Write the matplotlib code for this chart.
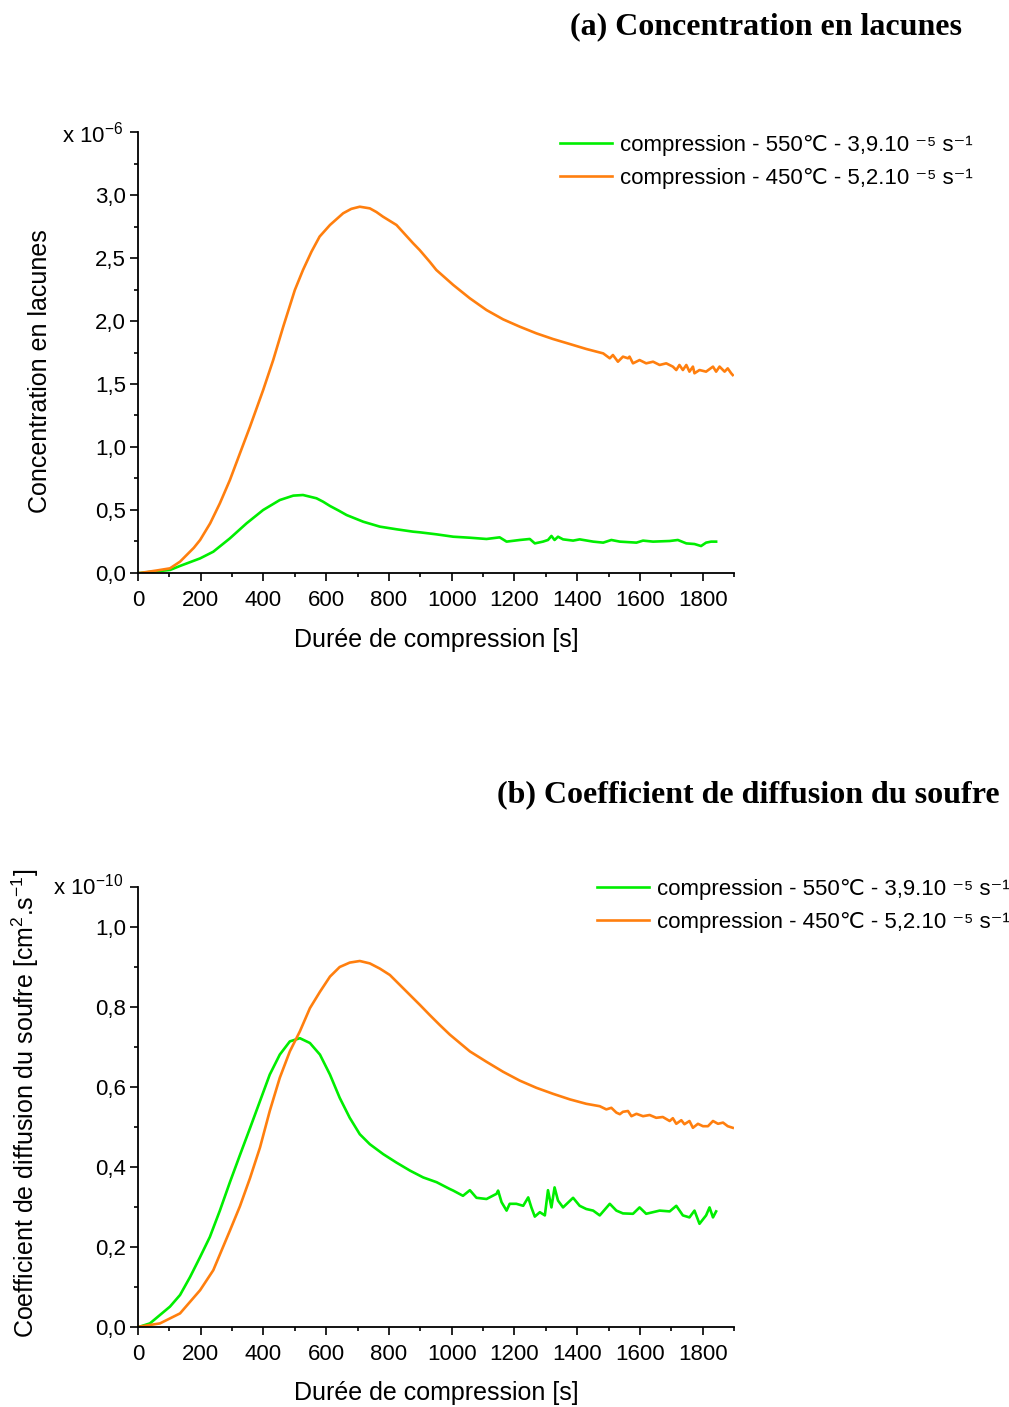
import matplotlib
matplotlib.use("Agg")
import matplotlib.pyplot as plt
from matplotlib.ticker import MultipleLocator

plt.rcParams['font.family'] = ['Liberation Sans', 'DejaVu Sans']
plt.rcParams['mathtext.fontset'] = 'custom'
plt.rcParams['mathtext.rm'] = 'Liberation Sans'
plt.rcParams['mathtext.it'] = 'Liberation Sans:italic'
plt.rcParams['mathtext.bf'] = 'Liberation Sans:bold'

# ---- data ----
# (a) vacancy concentration, units of 1e-6
t_a_550 = [0, 6, 102, 134, 198, 240, 293, 346, 399, 452, 495, 526, 569, 590, 612, 640,
           665, 718, 771, 824, 877, 898, 951, 1005, 1058, 1111, 1153, 1175, 1217, 1249,
           1265, 1291, 1307, 1318, 1328, 1339, 1355, 1387, 1408, 1451, 1483, 1509, 1536,
           1589, 1610, 1642, 1695, 1721, 1748, 1774, 1795, 1811, 1827, 1843]
c_a_550 = [0, 0.0, 0.024, 0.056, 0.116, 0.169, 0.275, 0.394, 0.5, 0.579, 0.614, 0.619,
           0.593, 0.566, 0.532, 0.495, 0.46, 0.407, 0.368, 0.347, 0.328, 0.323, 0.307,
           0.288, 0.280, 0.270, 0.283, 0.249, 0.262, 0.270, 0.235, 0.249, 0.262, 0.294,
           0.262, 0.288, 0.267, 0.257, 0.267, 0.249, 0.241, 0.262, 0.249, 0.241, 0.257,
           0.249, 0.254, 0.262, 0.235, 0.230, 0.214, 0.241, 0.249, 0.249]

t_a_450 = [0, 6, 60, 102, 134, 178, 198, 230, 261, 293, 325, 357, 399, 431, 463, 500,
           526, 553, 579, 612, 654, 680, 707, 739, 760, 781, 824, 877, 898, 930, 951,
           1005, 1058, 1111, 1164, 1217, 1270, 1323, 1377, 1429, 1483, 1504, 1514, 1530,
           1546, 1562, 1567, 1578, 1599, 1620, 1642, 1663, 1684, 1705, 1716, 1726, 1737,
           1748, 1758, 1769, 1774, 1790, 1811, 1833, 1843, 1854, 1870, 1880, 1891, 1896]
c_a_450 = [0, 0.0, 0.02, 0.037, 0.09, 0.20, 0.262, 0.394, 0.553, 0.738, 0.95, 1.161,
           1.452, 1.69, 1.955, 2.246, 2.405, 2.55, 2.67, 2.762, 2.855, 2.89, 2.907, 2.894,
           2.865, 2.828, 2.762, 2.617, 2.563, 2.47, 2.405, 2.286, 2.18, 2.087, 2.013,
           1.955, 1.902, 1.857, 1.817, 1.778, 1.743, 1.704, 1.730, 1.677, 1.717, 1.704,
           1.717, 1.664, 1.690, 1.664, 1.677, 1.651, 1.664, 1.638, 1.611, 1.651, 1.611,
           1.651, 1.598, 1.638, 1.585, 1.611, 1.598, 1.638, 1.598, 1.638, 1.598, 1.624,
           1.585, 1.571]

# (b) sulphur diffusion coefficient, units of 1e-10 cm2/s
t_b_550 = [0, 6, 38, 102, 134, 166, 198, 229, 261, 293, 325, 357, 389, 420, 452, 484,
           516, 548, 580, 612, 643, 675, 707, 739, 782, 824, 867, 909, 952, 994, 1005,
           1036, 1058, 1079, 1111, 1143, 1148, 1159, 1175, 1185, 1206, 1228, 1244, 1254,
           1265, 1281, 1297, 1307, 1318, 1328, 1339, 1355, 1387, 1408, 1429, 1451, 1472,
           1504, 1525, 1546, 1578, 1599, 1620, 1663, 1695, 1716, 1737, 1758, 1774, 1790,
           1811, 1822, 1833, 1843]
d_b_550 = [0, 0.001, 0.009, 0.051, 0.080, 0.125, 0.175, 0.225, 0.291, 0.362, 0.430,
           0.497, 0.565, 0.631, 0.681, 0.714, 0.722, 0.710, 0.681, 0.631, 0.573, 0.523,
           0.482, 0.457, 0.432, 0.411, 0.391, 0.374, 0.362, 0.345, 0.341, 0.328, 0.342,
           0.323, 0.320, 0.333, 0.341, 0.312, 0.291, 0.308, 0.308, 0.303, 0.324, 0.299,
           0.276, 0.287, 0.279, 0.342, 0.299, 0.349, 0.316, 0.299, 0.323, 0.303, 0.295,
           0.291, 0.279, 0.308, 0.291, 0.284, 0.283, 0.299, 0.283, 0.291, 0.289, 0.303,
           0.279, 0.274, 0.291, 0.258, 0.279, 0.299, 0.274, 0.289]

t_b_450 = [0, 6, 70, 134, 198, 240, 293, 325, 357, 389, 420, 452, 484, 516, 548, 580,
           612, 643, 675, 707, 739, 771, 803, 835, 867, 899, 930, 962, 994, 1026, 1058,
           1111, 1164, 1217, 1270, 1323, 1377, 1429, 1472, 1493, 1509, 1525, 1536, 1546,
           1562, 1573, 1589, 1610, 1631, 1652, 1673, 1695, 1705, 1716, 1732, 1742, 1758,
           1769, 1785, 1801, 1817, 1833, 1849, 1865, 1880, 1896]
d_b_450 = [0, 0.001, 0.009, 0.034, 0.092, 0.142, 0.241, 0.302, 0.372, 0.449, 0.540,
           0.623, 0.689, 0.739, 0.797, 0.838, 0.876, 0.900, 0.911, 0.915, 0.909, 0.896,
           0.880, 0.855, 0.830, 0.805, 0.780, 0.755, 0.731, 0.710, 0.689, 0.663, 0.638,
           0.616, 0.598, 0.583, 0.569, 0.558, 0.552, 0.544, 0.548, 0.536, 0.532, 0.538,
           0.540, 0.527, 0.533, 0.527, 0.530, 0.523, 0.525, 0.515, 0.522, 0.508, 0.517,
           0.507, 0.515, 0.498, 0.508, 0.502, 0.502, 0.515, 0.508, 0.511, 0.502, 0.498]

x_ticks = [0, 200, 400, 600, 800, 1000, 1200, 1400, 1600, 1800]
x_ticklabels = ['0', '200', '400', '600', '800', '1000', '1200', '1400', '1600', '1800']
y_ticks_a = [0, 0.5, 1.0, 1.5, 2.0, 2.5, 3.0, 3.5]
y_ticklabels_a = ['0,0', '0,5', '1,0', '1,5', '2,0', '2,5', '3,0', '']
y_ticks_b = [0, 0.2, 0.4, 0.6, 0.8, 1.0, 1.1]
y_ticklabels_b = ['0,0', '0,2', '0,4', '0,6', '0,8', '1,0', '']

label_550 = 'compression - 550\u2103 - 3,9.10 \u207b\u2075 s\u207b\u00b9'
label_450 = 'compression - 450\u2103 - 5,2.10 \u207b\u2075 s\u207b\u00b9'

GREEN = '#00ee00'
ORANGE = '#ff7f0e'

W, H = 1009, 1407
fig = plt.figure(figsize=(W / 100, H / 100), dpi=100)


def style_axis(ax, ymax, yticks, yticklabels, yminor):
    ax.set_xlim(0, 1900)
    ax.set_ylim(0, ymax)
    ax.spines['top'].set_visible(False)
    ax.spines['right'].set_visible(False)
    for s in ('left', 'bottom'):
        ax.spines[s].set_linewidth(1.3)
    ax.set_xticks(x_ticks)
    ax.set_xticklabels(x_ticklabels)
    ax.xaxis.set_minor_locator(MultipleLocator(100))
    ax.set_yticks(yticks)
    ax.set_yticklabels(yticklabels)
    ax.yaxis.set_minor_locator(MultipleLocator(yminor))
    ax.tick_params(which='major', direction='out', length=5.5, width=1.2,
                   labelsize=16)
    ax.tick_params(which='minor', direction='out', length=3, width=1.2)
    ax.tick_params(axis='x', which='major', pad=7)
    ax.tick_params(axis='y', which='major', pad=3)


leg_kw = dict(loc='upper left', bbox_transform=fig.transFigure, frameon=False,
              fontsize=16, borderpad=0, borderaxespad=0, handlelength=2.35,
              handletextpad=0.35, labelspacing=0.53)

# (a)
ax_a = fig.add_axes([138 / W, 1 - 573 / H, 596 / W, 441 / H])
ax_a.plot(t_a_550, c_a_550, color=GREEN, lw=1.9, label=label_550)
ax_a.plot(t_a_450, c_a_450, color=ORANGE, lw=1.9, label=label_450)
style_axis(ax_a, 3.5, y_ticks_a, y_ticklabels_a, 0.25)
ax_a.text(-0.024, 0.977, 'x 10$^{-6}$', transform=ax_a.transAxes,
          ha='right', va='baseline', fontsize=16)
ax_a.legend(bbox_to_anchor=(560 / W, 1 - 135 / H), **leg_kw)

# (b)
ax_b = fig.add_axes([138 / W, 1 - 1327 / H, 596 / W, 440 / H])
ax_b.plot(t_b_550, d_b_550, color=GREEN, lw=1.9, label=label_550)
ax_b.plot(t_b_450, d_b_450, color=ORANGE, lw=1.9, label=label_450)
style_axis(ax_b, 1.1, y_ticks_b, y_ticklabels_b, 0.1)
ax_b.text(-0.025, 0.982, 'x 10$^{-10}$', transform=ax_b.transAxes,
          ha='right', va='baseline', fontsize=16)
ax_b.legend(bbox_to_anchor=(597 / W, 1 - 879 / H), **leg_kw)

# titles and axis labels
fig.text(962 / W, 1 - 27 / H, '(a) Concentration en lacunes', ha='right', va='center',
         family='Liberation Serif', fontweight='bold', fontsize=23)
fig.text(1000 / W, 1 - 795 / H, '(b) Coefficient de diffusion du soufre', ha='right',
         va='center', family='Liberation Serif', fontweight='bold', fontsize=23)
fig.text(436 / W, 1 - 640 / H, 'Durée de compression [s]', ha='center', va='center',
         fontsize=18)
fig.text(436 / W, 1 - 1393 / H, 'Durée de compression [s]', ha='center', va='center',
         fontsize=18)
fig.text(40 / W, 1 - 371 / H, 'Concentration en lacunes', rotation=90, ha='center',
         va='center', fontsize=18)
fig.text(25 / W, 1 - 1103 / H, 'Coefficient de diffusion du soufre [cm$^2$.s$^{-1}$]',
         rotation=90, ha='center', va='center', fontsize=18)

fig.savefig('out.png', dpi=100)
